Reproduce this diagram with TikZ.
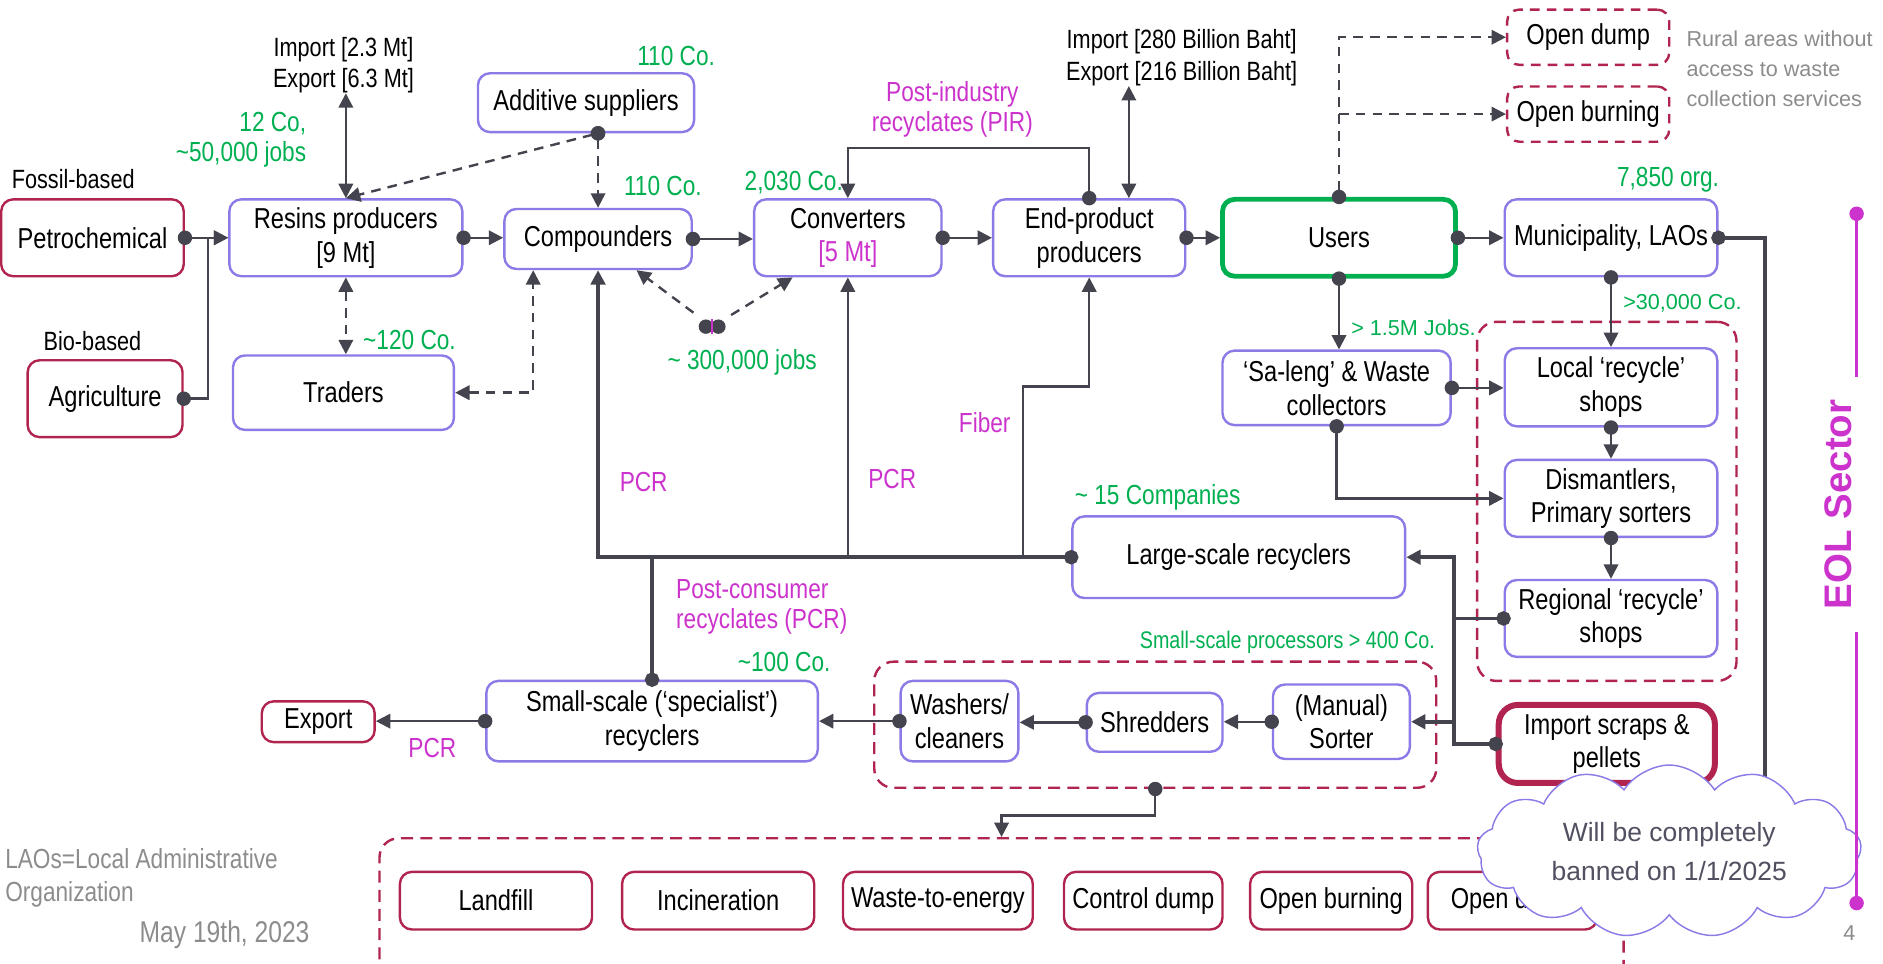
\documentclass[tikz,border=0pt]{standalone}
\usepackage{fontspec}
\setmainfont{Liberation Sans}[FakeStretch=0.82]
\newfontfamily\widefont{Liberation Sans}
\usetikzlibrary{arrows.meta,shapes.symbols}
\definecolor{boxpurple}{HTML}{8C7AE6}
\definecolor{crimson}{HTML}{B0244F}
\definecolor{greenlbl}{HTML}{00B050}
\definecolor{magentalbl}{HTML}{CC33CC}
\definecolor{linegray}{HTML}{44444E}
\definecolor{graytext}{HTML}{8C8C8C}
\definecolor{cloudtext}{HTML}{505060}
\newcommand\mainsize{\fontsize{12}{14}\selectfont}
\newcommand\lblsize{\fontsize{11.5}{12.5}\selectfont}
\newcommand\iosize{\fontsize{11}{13}\selectfont}
\tikzset{
    wh/.style 2 args={minimum width=#1*0.5pt, minimum height=#2*0.5pt},
    proc/.style={draw=boxpurple, line width=1pt, rounded corners=5pt, align=center, inner sep=1pt, font=\mainsize},
    src/.style={proc, draw=crimson},
    sink/.style={src, dash pattern=on 4pt off 3pt},
    group/.style={draw=crimson, line width=1pt, dash pattern=on 5pt off 3pt, rounded corners=8pt},
    nums/.style={text=greenlbl, font=\lblsize, align=center},
    flowlbl/.style={text=magentalbl, font=\lblsize, align=center},
    note/.style={text=graytext, inner sep=0pt},
    flow/.style={draw=linegray, line width=1pt, {Circle[length=6pt]}-{Triangle[length=6pt,width=6pt]}, shorten <=-3pt},
    dflow/.style={flow, dash pattern=on 4pt off 3pt},
    tipflow/.style={draw=linegray, line width=1pt, -{Triangle[length=6pt,width=6pt]}},
    dual/.style={draw=linegray, line width=1pt, {Triangle[length=6pt,width=6pt]}-{Triangle[length=6pt,width=6pt]}},
    ddual/.style={dual, dash pattern=on 4pt off 3pt},
    bus/.style={draw=linegray, line width=1.6pt},
    busflow/.style={bus, {Circle[length=6pt]}-{Triangle[length=6pt,width=6pt]}, shorten <=-3pt},
    }
\begin{document}
\begin{tikzpicture}[x=0.5pt,y=-0.5pt]
\useasboundingbox (0,0) rectangle (1568,802);
% producers
\node[src, wh={152}{64}] (petro) at (77,198) {Petrochemical};
\node[src, wh={129}{64}] (agri) at (87.5,332) {Agriculture};
\node[font=\iosize] (fossil) at (61,149) {Fossil-based};
\node[font=\iosize] (bio) at (77,284) {Bio-based};
\node[proc, wh={194}{64}] (resins) at (288,198) {Resins producers\\{}[9 Mt]};
\node[align=center, inner sep=0pt, font=\iosize] (resinsio) at (286,54) {Import [2.3 Mt]\\Export [6.3 Mt]};
\node[nums, anchor=east, align=right] (resinsco) at (262,116) {12 Co,\\\textasciitilde50,000 jobs};
\node[proc, wh={184}{62}] (traders) at (286,327) {Traders};
\node[nums] (tradersco) at (341,283) {\textasciitilde120 Co.};
\node[proc, wh={180}{49}] (additive) at (488,85.5) {Additive suppliers};
\node[nums] (additiveco) at (563,47) {110 Co.};
\node[proc, wh={156}{50}] (compound) at (498,199) {Compounders};
\node[nums] (compoundco) at (552,155) {110 Co.};
\node[proc, wh={156}{64}] (convert) at (706,198) {Converters\\\textcolor{magentalbl}{[5 Mt]}};
\node[nums] (convertco) at (661,152) {2,030 Co.};
\node[proc, wh={160}{64}] (endprod) at (907,198) {End-product\\producers};
\node[align=center, inner sep=0pt, font=\iosize] (endio) at (984,48) {Import [280 Billion Baht]\\Export [216 Billion Baht]};
\node[flowlbl] (pirlbl) at (793,91) {Post-industry\\recyclates (PIR)};
\node[inner sep=0pt, minimum size=12pt] (jobs) at (593,272) {};
\node[nums] (jobslbl) at (618,302) {\textasciitilde{} 300,000 jobs};
% users and collection
\node[proc, draw=greenlbl, line width=2pt, wh={194}{64}] (users) at (1115,198) {Users};
\node[sink, wh={135}{46}] (opendump) at (1322.5,31) {Open dump};
\node[sink, wh={135}{46}] (openburn) at (1322.5,95) {Open burning};
\node[note, anchor=west, align=left, font=\widefont\fontsize{9}{12.5}\selectfont] (rural) at (1404,57) {Rural areas without\\access to waste\\collection services};
\node[nums] (munico) at (1389,150) {7,850 org.};
\node[proc, wh={177}{64}] (muni) at (1341.5,198) {Municipality, LAOs};
\node[group, wh={216}{299}] (eolgroup) at (1338,417.5) {};
\node[proc, wh={190}{62}] (saleng) at (1113,323) {‘Sa-leng’ \& Waste\\collectors};
\node[nums, font=\widefont\fontsize{9}{11}\selectfont] (salengco) at (1177,273) {> 1.5M Jobs.};
\node[proc, wh={177}{65}] (local) at (1341.5,322.5) {Local ‘recycle’\\shops};
\node[nums, font=\widefont\fontsize{9}{11}\selectfont] (localco) at (1401,253) {>30,000 Co.};
\node[proc, wh={177}{64}] (dismant) at (1341.5,415) {Dismantlers,\\Primary sorters};
\node[proc, wh={177}{64}] (regional) at (1341.5,515) {Regional ‘recycle’\\shops};
% recyclers
\node[proc, wh={277}{68}] (large) at (1031.5,464) {Large-scale recyclers};
\node[nums] (largeco) at (964,414) {\textasciitilde{} 15 Companies};
\node[proc, wh={276}{67}] (small) at (543,600.5) {Small-scale (‘specialist’)\\recyclers};
\node[nums] (smallco) at (653,551) {\textasciitilde100 Co.};
\node[src, wh={94}{34}] (export) at (265,601) {Export};
\node[group, wh={468}{105}] (procgroup) at (962,603.5) {};
\node[nums, font=\fontsize{10}{12}\selectfont] (procco) at (1072,535) {Small-scale processors > 400 Co.};
\node[proc, wh={98}{67}] (washers) at (799,600.5) {Washers/\\cleaners};
\node[proc, wh={113}{49}] (shred) at (961.5,601.5) {Shredders};
\node[proc, wh={114}{62}] (sorter) at (1117,601) {(Manual)\\Sorter};
\node[src, line width=2.5pt, rounded corners=8pt, wh={180}{65}] (imports) at (1338,619.5) {Import scraps \&\\pellets};
% end of life
\node[group, wh={1036}{150}] (bingroup) at (834,773) {};
\node[src, wh={160}{48}] (landfill) at (413,750) {Landfill};
\node[src, wh={160}{48}] (incin) at (598,750) {Incineration};
\node[src, wh={158}{48}] (wte) at (781,750) {Waste-to-energy};
\node[src, wh={132}{48}] (ctrldump) at (952,750) {Control dump};
\node[src, wh={135}{48}] (burning) at (1108.5,750) {Open burning};
\node[src, wh={141}{48}] (dump) at (1259.5,750) {Open dump};
\coordinate (munidrop) at (1470,700);
\coordinate (fiberturn) at (852,322);
\coordinate (busx) at ([xshift=-17.5pt]imports.west);
% connectors
\draw[flow] (petro.east) -- (resins.west);
\draw[flow] (agri.east) -- ++(20,0) |- (resins.west);
\draw[dual] (resinsio.south -| resins.north) -- (resins.north);
\draw[ddual] (resins.south) -- (resins.south |- traders.north);
\draw[ddual] (traders.east) -| ([xshift=-27pt]compound.south);
\draw[dflow] (additive.south -| compound.north) -- (resins.north);
\draw[dflow] (additive.south -| compound.north) -- (compound.north);
\draw[flow] (resins.east) -- (resins.east -| compound.west);
\draw[flow] (compound.east) -- (compound.east -| convert.west);
\draw[flow] (convert.east) -- (endprod.west);
\draw[flow] (endprod.east) -- (users.west);
\draw[flow] (endprod.north) -- ++(0,-42) -| (convert.north);
\draw[dual] ([xshift=16.5pt]endprod.north) -- ([xshift=16.5pt]endprod.north |- endio.south);
\fill[linegray] ([xshift=-2.6pt]jobs.center) circle (3pt) ([xshift=2.6pt]jobs.center) circle (3pt);
\draw[magentalbl, line width=0.8pt] ([yshift=3pt]jobs.center) -- ([yshift=-3pt]jobs.center);
\draw[tipflow, dash pattern=on 4pt off 3pt, shorten <=2pt] (jobs) -- ([xshift=16pt]compound.south);
\draw[tipflow, dash pattern=on 4pt off 3pt, shorten <=2pt] (jobs) -- ([xshift=-23pt]convert.south);
\draw[flow] (users.east) -- (muni.west);
\draw[dflow] (users.north) |- (opendump.west);
\draw[tipflow, dash pattern=on 4pt off 3pt] (users.north |- openburn.west) -- (openburn.west);
\draw[bus, {Circle[length=6pt]}-, shorten <=-3pt] (muni.east) -| (munidrop);
\draw[flow] (users.south) -- (users.south |- saleng.north);
\draw[flow] (muni.south) -- (local.north);
\draw[flow] (saleng.east) -- (saleng.east -| local.west);
\draw[flow] (saleng.south) |- (dismant.west);
\draw[flow] (local.south) -- (dismant.north);
\draw[flow] (dismant.south) -- (regional.north);
\draw[bus, {Circle[length=6pt]}-, shorten <=-3pt] (regional.west) -- (busx |- regional.west);
\draw[busflow] (imports.west) -- (busx) |- (large.east);
\draw[bus, -{Triangle[length=6pt,width=6pt]}] (busx |- sorter.east) -- (sorter.east);
\draw[busflow] (large.west) -| (compound.south);
\draw[tipflow] (convert.south |- large.west) -- (convert.south);
\draw[tipflow] (fiberturn |- large.west) -- (fiberturn) -| (endprod.south);
\draw[bus, {Circle[length=6pt]}-, shorten <=-3pt] (small.north) -- (small.north |- large.west);
\node[flowlbl] (pcrone) at (536,401) {PCR};
\node[flowlbl] (pcrtwo) at (743,399) {PCR};
\node[flowlbl] (fiber) at (820,352) {Fiber};
\node[flowlbl, anchor=west, align=left] (pcrlbl) at (556,505) {Post-consumer\\recyclates (PCR)};
\node[flowlbl] (pcrexp) at (360,623) {PCR};
\draw[flow] (small.west) -- (small.west -| export.east);
\draw[flow] (washers.west) -- (washers.west -| small.east);
\draw[flow] (shred.west) -- (shred.west -| washers.east);
\draw[flow] (sorter.west) -- (sorter.west -| shred.east);
\draw[flow] (procgroup.south) -- ++(0,22) -| (bingroup.north);
% ban note
\node[cloud, cloud puffs=13, cloud puff arc=115, aspect=2.5, draw=boxpurple, fill=white, line width=0.6pt, inner sep=0pt,
    minimum width=160pt, minimum height=56pt, align=center, text=cloudtext, font=\widefont\fontsize{11}{16}\selectfont] (bancloud) at (1390,709) {Will be completely\\banned on 1/1/2025};
% EOL sector marker
\node[rotate=90, text=magentalbl, font=\widefont\bfseries\fontsize{16}{16}\selectfont] (eol) at (1531,420) {EOL Sector};
\coordinate (eoltop) at (1546,178);
\coordinate (eolbot) at (1546,752);
\draw[magentalbl, line width=1pt, {Circle[length=6pt]}-, shorten <=-3pt, shorten >=6pt] (eoltop) -- (eoltop |- eol.east);
\draw[magentalbl, line width=1pt, {Circle[length=6pt]}-, shorten <=-3pt, shorten >=6pt] (eolbot) -- (eolbot |- eol.west);
% footer
\node[note, anchor=west, align=left, font=\fontsize{11.5}{14}\selectfont] (laos) at (4,731) {LAOs=Local Administrative\\Organization};
\node[note, font=\fontsize{12.5}{14}\selectfont] (date) at (187,778) {May 19th, 2023};
\node[note, font=\widefont\fontsize{9}{11}\selectfont] (page) at (1540,777) {4};
\end{tikzpicture}
\end{document}
